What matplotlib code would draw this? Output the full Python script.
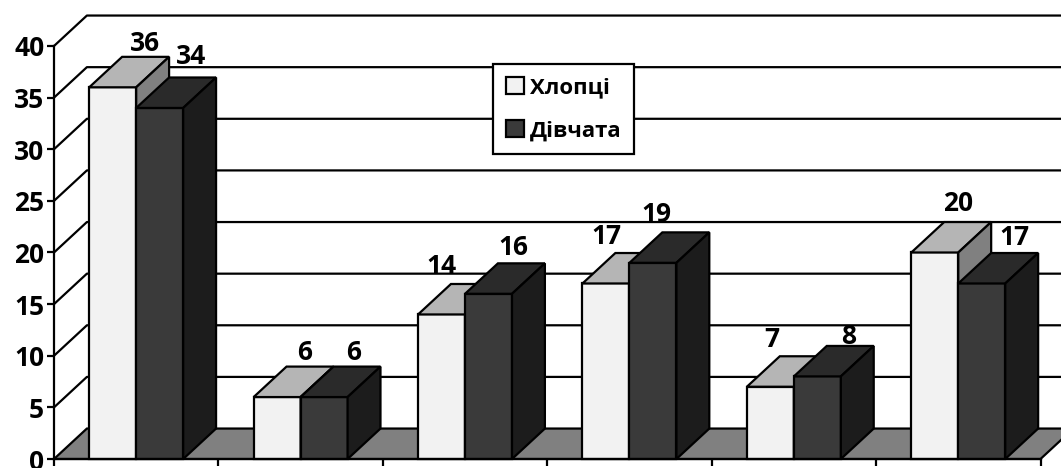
"""Grouped pseudo-3D bar chart: Хлопці / Дівчата."""
import matplotlib
matplotlib.use("Agg")
import matplotlib.pyplot as plt
from matplotlib.patches import Patch, Polygon

boys = [36, 6, 14, 17, 7, 20]
girls = [34, 6, 16, 19, 8, 17]
y_ticks = [0, 5, 10, 15, 20, 25, 30, 35, 40]
legend_labels = ["Хлопці", "Дівчата"]

# hand placed value labels, pixels from the middle of each bar's front top edge
boy_label_shift = [(32, 44), (27, 45), (0, 48), (0, 47), (1, 47), (23, 49)]
girl_label_shift = [(31, 51), (30, 45), (25, 46), (3, 48), (31, 40), (33, 46)]

FONT = ["Open Sans", "DejaVu Sans"]
EDGE = "#000000"
LW = 1.6
DX = 0.2  # depth in category units
DY = 2.95  # depth in value units
BAR_W = 1 / 3.5

BOY_COLORS = ("#f2f2f2", "#b5b5b5", "#808080")  # front, top, side
GIRL_COLORS = ("#3a3a3a", "#2a2a2a", "#1c1c1c")

plt.rcParams["font.family"] = FONT
plt.rcParams["font.weight"] = "bold"

fig = plt.figure(figsize=(10.61, 4.68), dpi=100)
ax = fig.add_axes([54 / 1061, 9 / 468, 986.5 / 1061, 413 / 468])
ax.set_xlim(0, 6)
ax.set_ylim(0, 40)


def poly(pts, color, z):
    ax.add_patch(Polygon(pts, closed=True, facecolor=color, edgecolor=EDGE,
                         linewidth=LW, joinstyle="miter", clip_on=False, zorder=z))


def bar3d(x, value, colors, z, shift):
    front, top, side = colors
    poly([(x, 0), (x + BAR_W, 0), (x + BAR_W, value), (x, value)], front, z)
    poly([(x, value), (x + BAR_W, value), (x + BAR_W + DX, value + DY), (x + DX, value + DY)], top, z)
    poly([(x + BAR_W, 0), (x + BAR_W + DX, DY), (x + BAR_W + DX, value + DY), (x + BAR_W, value)], side, z)
    ax.annotate(str(value), (x + BAR_W / 2, value), xytext=shift, textcoords="offset pixels",
                ha="center", va="center", fontsize=19, fontweight="bold", color="black",
                annotation_clip=False, zorder=50)


# floor and wall lines
poly([(0, 0), (DX, DY), (6 + DX, DY), (6, 0)], "#808080", 1)
for v in y_ticks[1:]:
    ax.plot([0, DX, 6 + DX], [v, v + DY, v + DY], color=EDGE, lw=LW, clip_on=False, zorder=1)

for i, (b, g) in enumerate(zip(boys, girls)):
    bar3d(i + 0.5 - BAR_W, b, BOY_COLORS, 3 + i * 2, boy_label_shift[i])
    bar3d(i + 0.5, g, GIRL_COLORS, 4 + i * 2, girl_label_shift[i])

ax.patch.set_visible(False)
for s in ("top", "right"):
    ax.spines[s].set_visible(False)
for s in ("left", "bottom"):
    ax.spines[s].set_linewidth(LW)
    ax.spines[s].set_zorder(20)

ax.set_xticks(range(7))
ax.set_xticklabels([])
ax.set_yticks(y_ticks)
ax.tick_params(axis="both", length=5, width=LW, pad=2)
ax.tick_params(axis="y", labelsize=19)

handles = [Patch(facecolor=BOY_COLORS[0], edgecolor=EDGE, linewidth=LW),
           Patch(facecolor=GIRL_COLORS[0], edgecolor=EDGE, linewidth=LW)]
leg = ax.legend(handles, legend_labels, loc="upper left",
                bbox_to_anchor=(493 / 1061, 1 - 64 / 468), bbox_transform=fig.transFigure,
                borderaxespad=0, fontsize=16, fancybox=False, framealpha=1, edgecolor=EDGE,
                handlelength=0.8, handleheight=0.8, handletextpad=0.28,
                labelspacing=1.0, borderpad=0.58)
leg.get_frame().set_linewidth(LW)
leg.set_zorder(60)

fig.savefig("out.png", dpi=100)
